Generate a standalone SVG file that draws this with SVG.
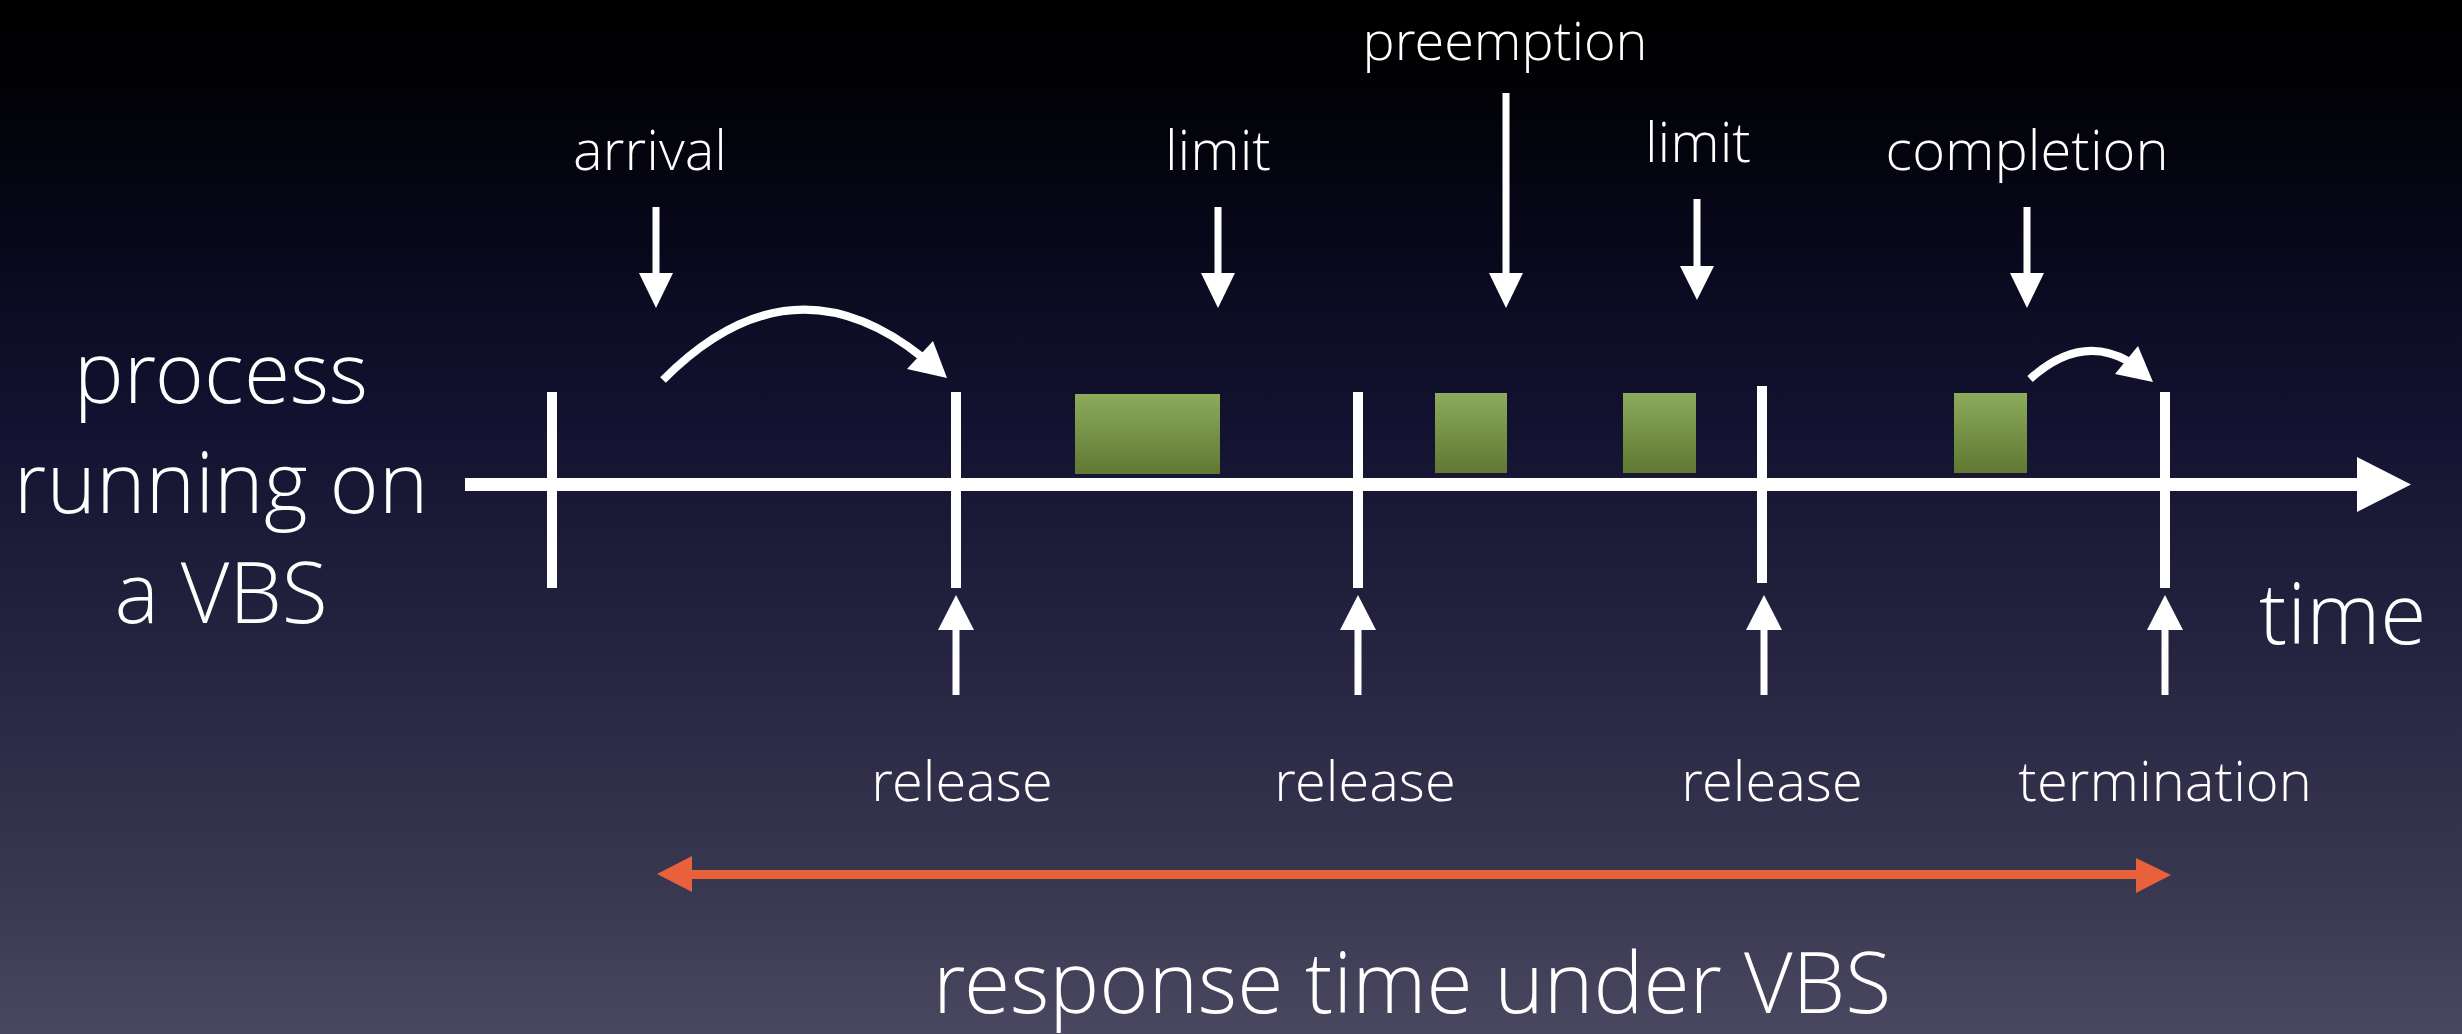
<svg xmlns="http://www.w3.org/2000/svg" width="2462" height="1034" viewBox="0 0 2462 1034">
  <defs>
    <linearGradient id="bg" x1="0" y1="0" x2="0" y2="1">
      <stop offset="0" stop-color="#000000"/>
      <stop offset="0.08" stop-color="#010105"/>
      <stop offset="0.22" stop-color="#070719"/>
      <stop offset="0.40" stop-color="#121230"/>
      <stop offset="0.55" stop-color="#1e1d3a"/>
      <stop offset="0.72" stop-color="#2d2b47"/>
      <stop offset="0.88" stop-color="#3b3a52"/>
      <stop offset="1" stop-color="#4a4860"/>
    </linearGradient>
    <linearGradient id="green" x1="0" y1="0" x2="0" y2="1">
      <stop offset="0" stop-color="#8cab5b"/>
      <stop offset="1" stop-color="#607832"/>
    </linearGradient>
    <style>
      .lbl { font-family: "Open Sans Light", "Open Sans", "Liberation Sans", sans-serif; font-weight: 300; fill: #ffffff; }
      .sm { font-size: 56px; text-anchor: middle; }
      .lg { font-size: 84px; }
      .shaft { stroke: #ffffff; stroke-width: 7; fill: none; }
      .tick { stroke: #ffffff; stroke-width: 10; fill: none; }
      .arc { stroke: #ffffff; stroke-width: 8; fill: none; }
      .head { fill: #ffffff; }
      .busy { fill: url(#green); }
      .span { stroke: #e8613b; stroke-width: 9; fill: none; }
      .spanhead { fill: #e8613b; }
    </style>
  </defs>

  <rect x="0" y="0" width="2462" height="1034" fill="url(#bg)"/>

  <!-- time axis with job boundaries -->
  <g id="axis">
    <rect x="465" y="478" width="1894" height="13" fill="#ffffff"/>
    <polygon class="head" points="2357,457 2411,484.5 2357,512"/>
    <line class="tick" x1="552" y1="392" x2="552" y2="588"/>
    <line class="tick" x1="956" y1="392" x2="956" y2="588"/>
    <line class="tick" x1="1358" y1="392" x2="1358" y2="588"/>
    <line class="tick" x1="1762" y1="386" x2="1762" y2="583"/>
    <line class="tick" x1="2165" y1="392" x2="2165" y2="588"/>
  </g>

  <!-- execution slices -->
  <g id="slices">
    <rect class="busy" x="1075" y="394" width="145" height="80"/>
    <rect class="busy" x="1435" y="393" width="72" height="80"/>
    <rect class="busy" x="1623" y="393" width="73" height="80"/>
    <rect class="busy" x="1954" y="393" width="73" height="80"/>
  </g>

  <!-- labels -->
  <g id="label-process">
    <text class="lbl lg" x="221" y="403" text-anchor="middle">process</text>
    <text class="lbl lg" x="221" y="513" text-anchor="middle">running on</text>
    <text class="lbl lg" x="221" y="623" text-anchor="middle">a VBS</text>
  </g>
  <g id="label-time"><text class="lbl lg" x="2259" y="644">time</text></g>
  <g id="label-response"><text class="lbl lg" x="1412" y="1013" text-anchor="middle">response time under VBS</text></g>

  <g id="ev-arrival"><text class="lbl sm" x="650" y="170">arrival</text></g>
  <g id="ev-limit1"><text class="lbl sm" x="1218" y="170">limit</text></g>
  <g id="ev-preemption"><text class="lbl sm" x="1505" y="60" style="font-size:54px">preemption</text></g>
  <g id="ev-limit2"><text class="lbl sm" x="1698" y="162">limit</text></g>
  <g id="ev-completion"><text class="lbl sm" x="2027" y="170">completion</text></g>
  <g id="ev-release1"><text class="lbl sm" x="962" y="801">release</text></g>
  <g id="ev-release2"><text class="lbl sm" x="1365" y="801">release</text></g>
  <g id="ev-release3"><text class="lbl sm" x="1772" y="801">release</text></g>
  <g id="ev-termination"><text class="lbl sm" x="2165" y="801">termination</text></g>

  <!-- connectors -->
  <g id="connectors">
    <!-- downward event arrows -->
    <line class="shaft" x1="656" y1="207" x2="656" y2="276"/>
    <polygon class="head" points="639,273 673,273 656,308"/>
    <line class="shaft" x1="1218" y1="207" x2="1218" y2="276"/>
    <polygon class="head" points="1201,273 1235,273 1218,308"/>
    <line class="shaft" x1="1506" y1="93" x2="1506" y2="276"/>
    <polygon class="head" points="1489,273 1523,273 1506,308"/>
    <line class="shaft" x1="1697" y1="199" x2="1697" y2="269"/>
    <polygon class="head" points="1680,266 1714,266 1697,300"/>
    <line class="shaft" x1="2027" y1="207" x2="2027" y2="276"/>
    <polygon class="head" points="2010,273 2044,273 2027,308"/>

    <!-- upward release arrows -->
    <line class="shaft" x1="956" y1="627" x2="956" y2="695"/>
    <polygon class="head" points="938,630 974,630 956,595"/>
    <line class="shaft" x1="1358" y1="627" x2="1358" y2="695"/>
    <polygon class="head" points="1340,630 1376,630 1358,595"/>
    <line class="shaft" x1="1764" y1="627" x2="1764" y2="695"/>
    <polygon class="head" points="1746,630 1782,630 1764,595"/>
    <line class="shaft" x1="2165" y1="627" x2="2165" y2="695"/>
    <polygon class="head" points="2147,630 2183,630 2165,595"/>

    <!-- deferral arcs -->
    <path class="arc" d="M663,380 Q790,252 922,357"/>
    <polygon class="head" points="947,378 907,369 933,341"/>
    <path class="arc" d="M2030,379 Q2080,334 2128,361"/>
    <polygon class="head" points="2153,382 2115,374 2138,346"/>

    <!-- response time span -->
    <line class="span" x1="688" y1="874.5" x2="2139" y2="874.5"/>
    <polygon class="spanhead" points="657,874 692,856 692,892"/>
    <polygon class="spanhead" points="2171,875 2136,858 2136,893"/>
  </g>
</svg>
